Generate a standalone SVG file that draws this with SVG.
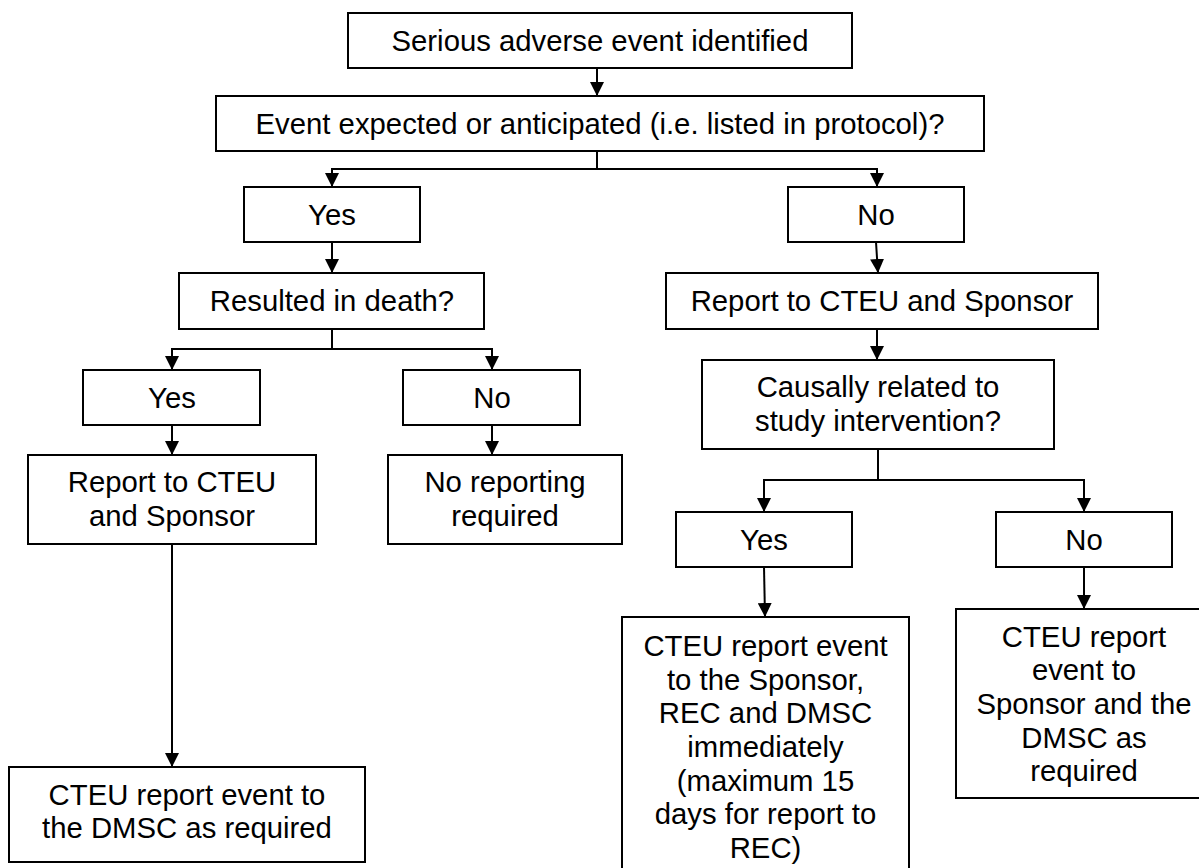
<svg xmlns="http://www.w3.org/2000/svg" width="1199" height="868" viewBox="0 0 1199 868">
<style>
rect{fill:#fff;stroke:#000;stroke-width:2}
text{font-family:"Liberation Sans",Arial,sans-serif;font-size:29.3px;fill:#000;text-anchor:middle}
.c{fill:none;stroke:#000;stroke-width:2}
</style>
<defs>
<marker id="ah" markerWidth="14" markerHeight="14" viewBox="0 0 14 14" refX="14" refY="7" orient="auto" markerUnits="userSpaceOnUse">
<path d="M0,0 L14,7 L0,14 Z" fill="#000"/>
</marker>
</defs>
<rect x="0" y="0" width="1199" height="868" style="stroke:none"/>
<g id="connectors">
<path class="c" d="M597,68 V96" marker-end="url(#ah)"/>
<path class="c" d="M597,151 V169 H332 V187" marker-end="url(#ah)"/>
<path class="c" d="M597,169 H877 V187" marker-end="url(#ah)"/>
<path class="c" d="M332,242 V273" marker-end="url(#ah)"/>
<path class="c" d="M332,329 V349 H172 V370" marker-end="url(#ah)"/>
<path class="c" d="M332,349 H492 V370" marker-end="url(#ah)"/>
<path class="c" d="M172,425 V455" marker-end="url(#ah)"/>
<path class="c" d="M492,425 V455" marker-end="url(#ah)"/>
<path class="c" d="M172,544 V767" marker-end="url(#ah)"/>
<path class="c" d="M876,242 L878,273" marker-end="url(#ah)"/>
<path class="c" d="M877,329 V360" marker-end="url(#ah)"/>
<path class="c" d="M878,449 V480 H764 V512" marker-end="url(#ah)"/>
<path class="c" d="M878,480 H1084 V512" marker-end="url(#ah)"/>
<path class="c" d="M764,567 L765,617" marker-end="url(#ah)"/>
<path class="c" d="M1084,567 V609" marker-end="url(#ah)"/>
</g>
<g id="n1"><rect x="348" y="13" width="504" height="55"/><text x="600" y="51">Serious adverse event identified</text></g>
<g id="n2"><rect x="216" y="96" width="768" height="55"/><text x="600" y="134">Event expected or anticipated (i.e. listed in protocol)?</text></g>
<g id="n3"><rect x="244" y="187" width="176" height="55"/><text x="332" y="225">Yes</text></g>
<g id="n4"><rect x="788" y="187" width="176" height="55"/><text x="876" y="225">No</text></g>
<g id="n5"><rect x="179" y="273" width="305" height="56"/><text x="332" y="311">Resulted in death?</text></g>
<g id="n6"><rect x="83" y="370" width="177" height="55"/><text x="172" y="408">Yes</text></g>
<g id="n7"><rect x="403" y="370" width="177" height="55"/><text x="492" y="408">No</text></g>
<g id="n8"><rect x="28" y="455" width="288" height="89"/><text x="172" y="492">Report to CTEU</text><text x="172" y="526">and Sponsor</text></g>
<g id="n9"><rect x="388" y="455" width="234" height="89"/><text x="505" y="492">No reporting</text><text x="505" y="526">required</text></g>
<g id="n10"><rect x="9" y="767" width="356" height="95"/><text x="187" y="805">CTEU report event to</text><text x="187" y="838">the DMSC as required</text></g>
<g id="n11"><rect x="666" y="273" width="432" height="56"/><text x="882" y="311">Report to CTEU and Sponsor</text></g>
<g id="n12"><rect x="702" y="360" width="352" height="89"/><text x="878" y="397">Causally related to</text><text x="878" y="431">study intervention?</text></g>
<g id="n13"><rect x="676" y="512" width="176" height="55"/><text x="764" y="550">Yes</text></g>
<g id="n14"><rect x="996" y="512" width="176" height="55"/><text x="1084" y="550">No</text></g>
<g id="n15"><rect x="622" y="617" width="287" height="262"/><text x="765.5" y="656">CTEU report event</text><text x="765.5" y="690">to the Sponsor,</text><text x="765.5" y="723">REC and DMSC</text><text x="765.5" y="757">immediately</text><text x="765.5" y="791">(maximum 15</text><text x="765.5" y="824">days for report to</text><text x="765.5" y="858">REC)</text></g>
<g id="n16"><rect x="956" y="609" width="256" height="189"/><text x="1084" y="647">CTEU report</text><text x="1084" y="680">event to</text><text x="1084" y="714">Sponsor and the</text><text x="1084" y="748">DMSC as</text><text x="1084" y="781">required</text></g>
</svg>
